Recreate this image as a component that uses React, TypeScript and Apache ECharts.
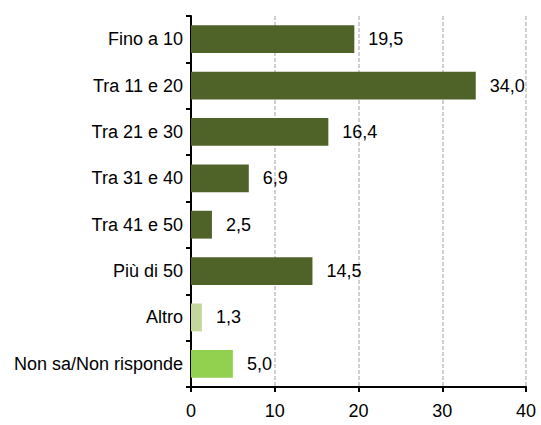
import React, { useEffect, useRef } from "react";
import * as echarts from "echarts";

const categories = [
  "Fino a 10",
  "Tra 11 e 20",
  "Tra 21 e 30",
  "Tra 31 e 40",
  "Tra 41 e 50",
  "Più di 50",
  "Altro",
  "Non sa/Non risponde",
];
const values = [19.5, 34.0, 16.4, 6.9, 2.5, 14.5, 1.3, 5.0];
const barColors = [
  "#4F6228",
  "#4F6228",
  "#4F6228",
  "#4F6228",
  "#4F6228",
  "#4F6228",
  "#C3D69B",
  "#92D050",
];
const xTicks = { min: 0, max: 40, interval: 10 };

export default function App() {
  const ref = useRef<HTMLDivElement>(null);
  useEffect(() => {
    document.body.style.margin = "0";
    const chart = echarts.init(ref.current!, null, { renderer: "svg" });
    const font = "'Liberation Sans', Arial, sans-serif";
    chart.setOption({
      animation: false,
      textStyle: { fontFamily: font },
      grid: { left: 191, right: 15, top: 16, bottom: 38, containLabel: false },
      xAxis: {
        type: "value",
        min: xTicks.min,
        max: xTicks.max,
        interval: xTicks.interval,
        axisLine: { show: true, lineStyle: { color: "#000", width: 2 } },
        axisTick: { show: true, length: 5, lineStyle: { color: "#000", width: 2 } },
        axisLabel: { color: "#000", fontSize: 18, fontFamily: font, margin: 15 },
        splitLine: {
          show: true,
          lineStyle: { color: "#c0c0c0", type: [4, 2], width: 1.5 },
        },
      },
      yAxis: {
        type: "category",
        inverse: true,
        data: categories,
        axisLine: { show: true, lineStyle: { color: "#000", width: 2 } },
        axisTick: { show: true, length: 5, alignWithLabel: false, lineStyle: { color: "#000", width: 2 } },
        axisLabel: { color: "#000", fontSize: 18, fontFamily: font, margin: 8 },
        splitLine: { show: false },
      },
      series: [
        {
          type: "bar",
          data: values.map((v, i) => ({ value: v, itemStyle: { color: barColors[i] } })),
          barCategoryGap: "40%",
          label: {
            show: true,
            position: "right",
            distance: 14,
            color: "#000",
            fontSize: 18,
            fontFamily: font,
            formatter: (p: any) => p.value.toFixed(1).replace(".", ","),
          },
        },
      ],
    });
    return () => chart.dispose();
  }, []);
  return <div ref={ref} style={{ width: 541, height: 425 }} />;
}
